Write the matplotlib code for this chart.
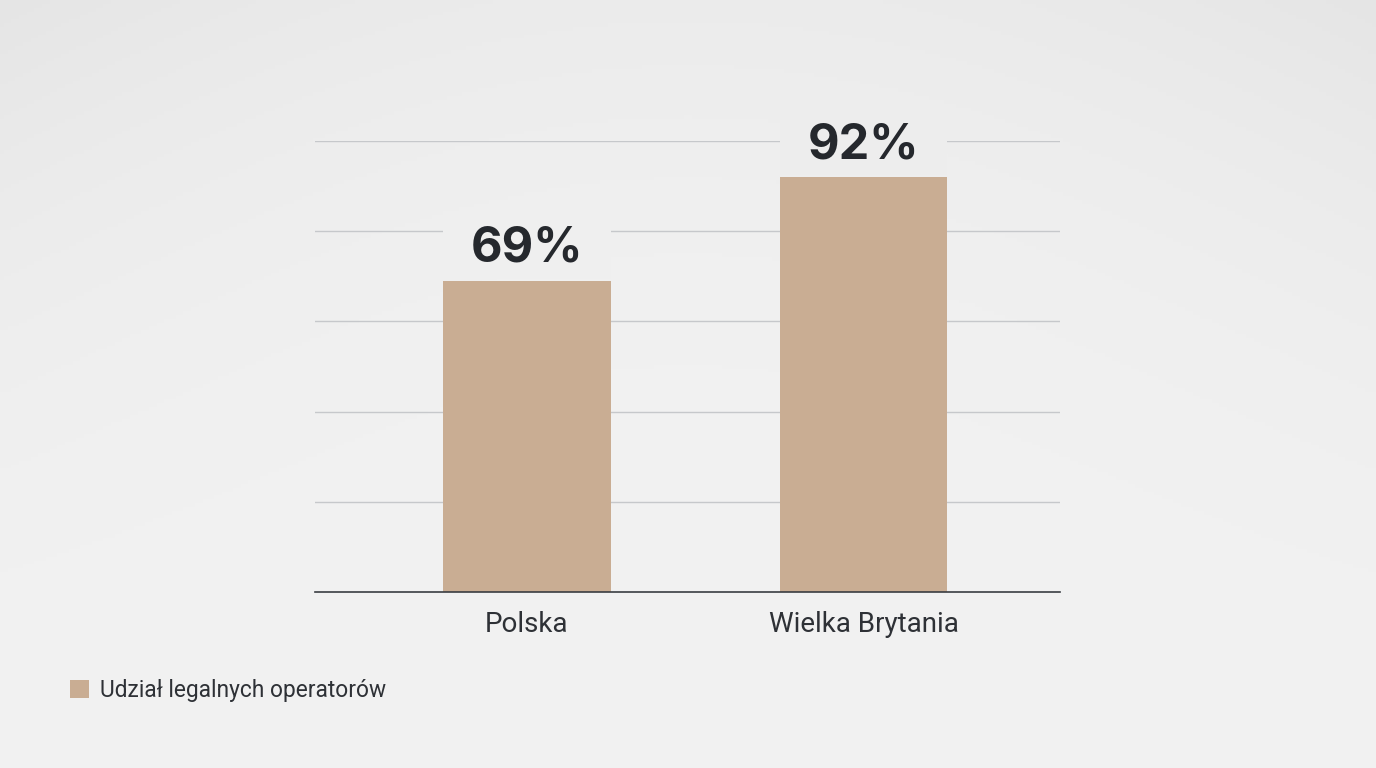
import matplotlib.pyplot as plt
import numpy as np
from matplotlib.patches import Rectangle, Patch

countries = ["Polska", "Wielka Brytania"]
shares = [69, 92]
series_name = "Udział legalnych operatorów"

bar_color = "#c9ad93"
text_dark = "#25282d"

fig = plt.figure(figsize=(13.76, 7.68), dpi=100)


def backdrop(fx, fy):
    # grey level of the backdrop at figure fraction (fx, fy), fy measured from top
    return 0.945 - 0.10 * ((fx - 0.5) ** 2) * (1 - fy) ** 1.5 - 0.025 * (1 - fy) ** 3


bg = fig.add_axes([0, 0, 1, 1], zorder=-10)
yy, xx = np.mgrid[0:1:200j, 0:1:360j]
bg.imshow(backdrop(xx, yy), cmap="gray", vmin=0, vmax=1, aspect="auto",
          extent=[0, 1, 0, 1], origin="upper")
bg.axis("off")

ax = fig.add_axes([315 / 1376, 176 / 768, 745 / 1376, 451 / 768])
ax.set_facecolor("none")
x = np.arange(len(countries))
width = 0.496
ax.bar(x, shares, width=width, color=bar_color, zorder=3)

ax.set_xlim(-0.629, 1.582)
ax.set_ylim(0, 100)
ax.set_yticks([20, 40, 60, 80, 100])
ax.grid(axis="y", color="#c6c8cb", linewidth=1, zorder=0)
ax.tick_params(axis="y", length=0, labelleft=False)
ax.tick_params(axis="x", length=0, pad=14)
ax.set_xticks(x)
ax.set_xticklabels(countries, fontsize=20, color="#2e3136", family="Roboto")
for s in ["top", "right", "left"]:
    ax.spines[s].set_visible(False)
ax.spines["bottom"].set_color("#3a3d42")
ax.spines["bottom"].set_linewidth(1.2)
ax.spines["bottom"].set_zorder(4)

to_fig = ax.transData + fig.transFigure.inverted()
for xi, v in zip(x, shares):
    # cut the gridlines behind the value label, using the local backdrop tone
    cx, cy = to_fig.transform((xi, v + 7))
    g = backdrop(cx, 1 - cy)
    ax.add_patch(Rectangle((xi - width / 2, v + 0.5), width, 14,
                           facecolor=(g, g, g), edgecolor="none", zorder=2,
                           clip_on=False))
    ax.text(xi, v + 4.2, f"{v}%", ha="center", va="baseline", fontsize=35,
            fontweight="bold", family="Inter", color=text_dark, zorder=5)

fig.legend(handles=[Patch(facecolor=bar_color, edgecolor="none")],
           labels=[series_name], loc="lower left",
           bbox_to_anchor=(70 / 1376, 66 / 768), frameon=False,
           prop={"family": "Roboto", "size": 16.4},
           handlelength=0.85, handleheight=0.85, handletextpad=0.45,
           borderpad=0, borderaxespad=0, labelcolor="#2e3136")

fig.savefig("out.png", dpi=100)
